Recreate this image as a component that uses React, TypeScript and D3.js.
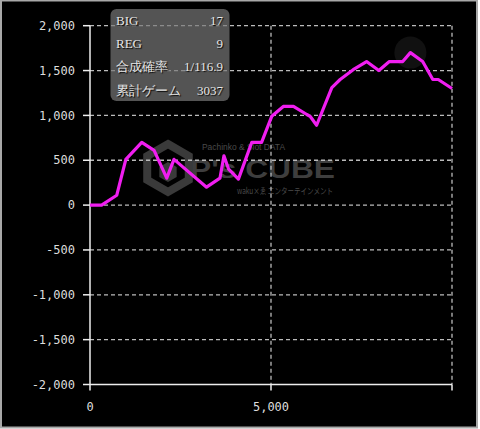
import React from "react";
import * as d3 from "d3";

const xs = [0, 320, 740, 990, 1430, 1770, 2120, 2320, 3220, 3590, 3700, 3830, 4100, 4470, 4740, 5020, 5340, 5620, 5990, 6080, 6260, 6680, 6910, 7270, 7640, 7980, 8270, 8640, 8850, 9190, 9470, 9620, 10000];
const ys = [0, 0, 110, 510, 700, 610, 300, 510, 200, 300, 550, 400, 290, 700, 700, 990, 1100, 1100, 1010, 990, 890, 1310, 1400, 1510, 1600, 1500, 1600, 1600, 1700, 1600, 1400, 1400, 1300];
const yTicks = [-2000, -1500, -1000, -500, 0, 500, 1000, 1500, 2000];
const xTicks = [0, 5000, 10000];
const xTickLabels = ["0", "5,000", ""];
const infoLabels = ["BIG", "REG", "合成確率", "累計ゲーム"];
const infoValues = ["17", "9", "1/116.9", "3037"];

const W = 480, H = 429;
const left = 90, right = 452, top = 25.7, bottom = 384.5;

export default function App() {
  const x = d3.scaleLinear().domain([0, 10000]).range([left, right]);
  const y = d3.scaleLinear().domain([-2000, 2000]).range([bottom, top]);
  const pts: [number, number][] = xs.map((v, i) => [v, ys[i]]);
  const line = d3.line<[number, number]>().x(d => x(d[0])).y(d => y(d[1]));
  const fmt = d3.format(",");
  const mono = "'DejaVu Sans Mono', monospace";
  const serif = "'Liberation Serif', 'DejaVu Serif', serif";
  const hex = (cx: number, cy: number, r: number) =>
    d3.range(6).map(i => {
      const a = Math.PI / 3 * i - Math.PI / 2;
      return `${cx + r * Math.cos(a)},${cy + r * Math.sin(a)}`;
    }).join(" ");
  return (
    <svg width={W} height={H} style={{ position: "fixed", left: 0, top: 0, background: "#fff" }}>
      <rect x={1} y={0.5} width={476} height={427} fill="#000" stroke="#a8a8a8" strokeWidth={2} />
      {/* watermark */}
      <g>
        <polygon points={hex(168, 168, 24)} fill="none" stroke="#3a3a3a" strokeWidth={8} />
        <polygon points={hex(168, 172, 10)} fill="#3a3a3a" />
        <text x={202} y={150} fontSize={9.5} fill="#4a4a4a" textLength={83} lengthAdjust="spacingAndGlyphs" fontFamily="'Liberation Sans Narrow', 'Liberation Sans', sans-serif">Pachinko &amp; Slot DATA</text>
        <text x={190} y={178} fontSize={25} fontWeight="bold" fill="#3e3e3e" textLength={145} lengthAdjust="spacingAndGlyphs" fontFamily="'Liberation Sans', Arial, sans-serif">P's CUBE</text>
        <text x={237} y={194} fontSize={8.5} fill="#4a4a4a" textLength={96} lengthAdjust="spacingAndGlyphs" fontFamily="'Noto Sans CJK JP', sans-serif">waku×ゑ エンターテインメント</text>
      </g>
      {/* grid */}
      {yTicks.filter(t => t > -2000).map(t => (
        <line key={"gy" + t} x1={left} x2={right} y1={y(t)} y2={y(t)} stroke="#bbb" strokeWidth={1.3} strokeDasharray="4,3" />
      ))}
      {xTicks.filter(t => t > 0).map(t => (
        <line key={"gx" + t} x1={x(t)} x2={x(t)} y1={top} y2={bottom} stroke="#bbb" strokeWidth={1.3} strokeDasharray="4,3" />
      ))}
      {/* axes */}
      <line x1={left} x2={left} y1={y(2000)} y2={bottom} stroke="#eee" strokeWidth={1.5} />
      <line x1={left} x2={right} y1={bottom} y2={bottom} stroke="#eee" strokeWidth={1.5} />
      {yTicks.map(t => (
        <g key={"ty" + t}>
          <line x1={left - 7} x2={left} y1={y(t)} y2={y(t)} stroke="#eee" strokeWidth={1.5} />
          <text x={left - 15} y={y(t)} dy="0.35em" textAnchor="end" fontSize={12} fill="#ddd" fontFamily={mono}>{fmt(t).replace("−", "-")}</text>
        </g>
      ))}
      {xTicks.map((t, i) => (
        <g key={"tx" + t}>
          <line x1={x(t)} x2={x(t)} y1={bottom} y2={bottom + 6} stroke="#eee" strokeWidth={1.5} />
          <text x={x(t)} y={bottom + 22} dy="0.35em" textAnchor="middle" fontSize={12} fill="#ddd" fontFamily={mono}>{xTickLabels[i]}</text>
        </g>
      ))}
      {/* hover marker */}
      <circle cx={x(8850)} cy={y(1700)} r={16} fill="#111" />
      {/* line */}
      <path d={line(pts) || ""} fill="none" stroke="#f01ef0" strokeWidth={3.2} strokeLinejoin="round" />
      {/* info box */}
      <rect x={110.5} y={9} width={119} height={92} rx={6} fill="rgba(120,120,120,0.7)" />
      {infoLabels.map((l, i) => (
        <g key={l} fontFamily={serif} fontSize={13} fill="#e6e6e6" style={{ textShadow: "1px 1px 1px #000" }}>
          <text x={116} y={20.5 + i * 23.2} dy="0.35em">{l}</text>
          <text x={223} y={20.5 + i * 23.2} dy="0.35em" textAnchor="end">{infoValues[i]}</text>
        </g>
      ))}
    </svg>
  );
}
